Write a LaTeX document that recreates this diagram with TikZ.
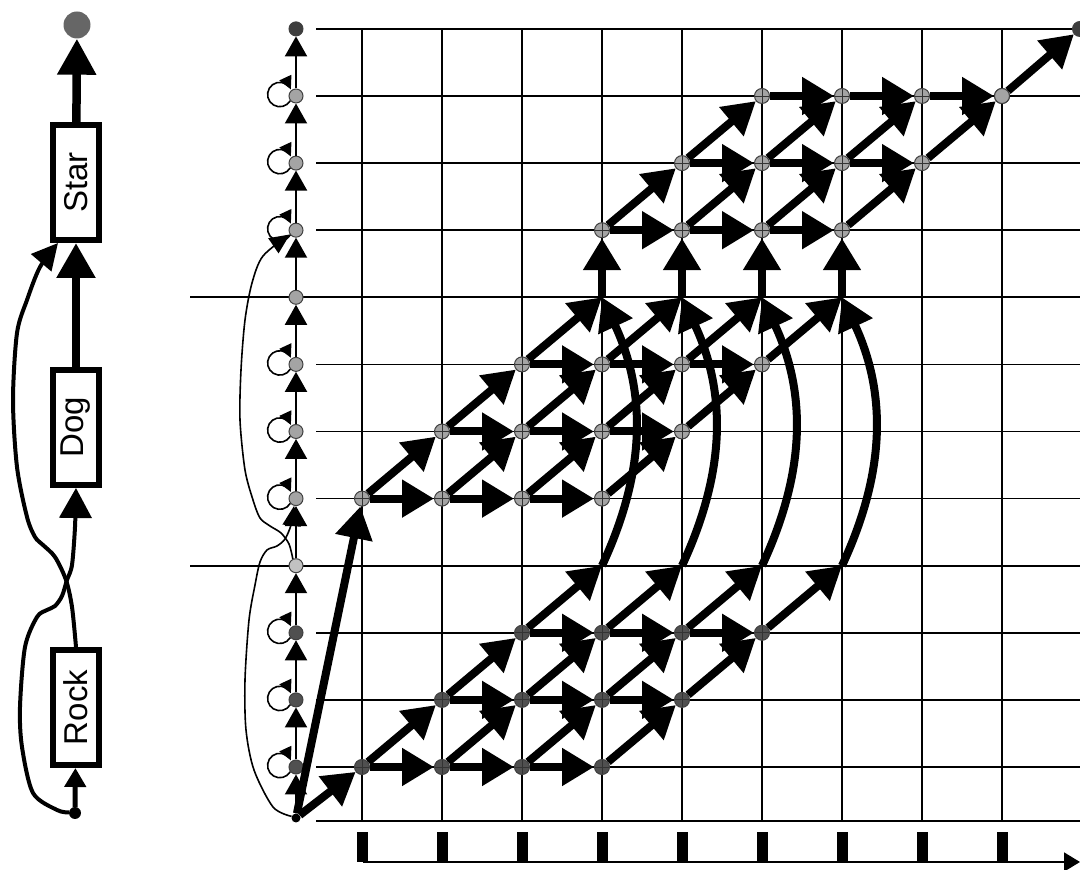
\documentclass[tikz,border=0pt]{standalone}
\usepackage{fontspec}
\setmainfont{Liberation Sans}
\usepackage{graphicx}
\usetikzlibrary{arrows.meta}
\definecolor{nodedark}{HTML}{505050}
\definecolor{nodemid}{HTML}{A4A4A4}
\definecolor{nodelight}{HTML}{C2C2C2}
\definecolor{nodetop}{HTML}{3E3E3E}
\definecolor{dotgray}{HTML}{666666}
\tikzset{
  gridline/.style={line width=1.7pt},
  state/.style={circle,draw=black!75,line width=1pt,inner sep=0pt,minimum size=14pt},
  cell/.style={state,minimum size=15pt,
    path picture={\draw[line width=0.9pt,black!80]
      (path picture bounding box.north) -- (path picture bounding box.south)
      (path picture bounding box.west) -- (path picture bounding box.east);}},
  fat/.style={line width=8pt,-{Triangle[length=32pt,width=36pt]}},
  slim/.style={line width=2pt,-{Triangle[length=20pt,width=22pt]}},
  hair/.style={line width=1.6pt,-{Triangle[length=20pt,width=18pt]}},
  selfloop/.style={line width=1.6pt,-{Triangle[length=13pt,width=13pt]}},
  word/.style={draw,fill=white,line width=6pt,minimum width=46pt,minimum height=115pt,
    inner sep=0pt,font=\fontsize{33}{38}\selectfont},
}
\begin{document}
\begin{tikzpicture}[x=1pt,y=1pt]
\useasboundingbox (0,0) rectangle (1080,870);
% word chain
\node[circle,fill=black,inner sep=0pt,minimum size=12pt] (ldot) at (75,57) {};
\node[word] (rock) at (76,162.5) {\rotatebox{90}{Rock}};
\node[word] (dog) at (76,442.5) {\rotatebox{90}{Dog}};
\node[word] (star) at (76,687.5) {\rotatebox{90}{Star}};
\node[circle,fill=dotgray,inner sep=0pt,minimum size=27pt] (ltop) at (77,845) {};
\coordinate (starin) at (58,627);
\draw[line width=5pt,-{Triangle[length=19pt,width=21pt]}] (ldot) -- (rock);
\draw[line width=8.5pt,-{Triangle[length=35pt,width=37pt]}] (dog) -- (star);
\draw[line width=8.5pt,-{Triangle[length=36pt,width=37pt]}] (star) -- (ltop);
\draw[line width=4pt,-{Triangle[length=30pt,width=32pt]}] plot[smooth] coordinates
  {(ldot.175) (57,60) (33,77) (22,123) (20,163) (25,223) (37,253) (47,260) (55,264)
   (62,274) (67,290) (72,305) (75,343) (dog.south)};
\draw[line width=4pt,-{Triangle[length=26pt,width=26pt]}] plot[smooth] coordinates
  {(rock.north) (72,263) (66,290) (55,313) (43,325) (35,333) (27,353) (17,403)
   (13,470) (17,537) (27,570) (40,603) (starin)};
% grid
\foreach \j in {0,...,11}
  \draw[gridline] (316,{103+67.1*\j}) -- (1080,{103+67.1*\j});
\draw[gridline] (316,49) -- (1080,49);
\foreach \j in {3,7}
  \draw[gridline] (190,{103+67.1*\j}) -- (316,{103+67.1*\j});
\foreach \i in {0,...,8}
  \draw[gridline] ({362+80*\i},49) -- ({362+80*\i},841);
% time axis
\coordinate (ax0) at (363,8);
\coordinate (ax1) at (1080,8);
\draw[line width=1.7pt,-{Triangle[length=16pt,width=19pt]}] (ax0) -- (ax1);
\foreach \i in {0,...,8}
  \fill ({357+80*\i},8) rectangle ++(11,30);
% column of states
\node[circle,fill=black,inner sep=0pt,minimum size=9pt] (cs) at (296,52) {};
\foreach \j/\fillc in {0/nodedark,1/nodedark,2/nodedark,3/nodelight,4/nodemid,5/nodemid,
  6/nodemid,7/nodemid,8/nodemid,9/nodemid,10/nodemid,11/nodetop}
  \node[state,fill=\fillc] (c\j) at (296,{103+67.1*\j}) {};
\draw[slim] (cs) -- (c0);
\foreach \j in {0,...,10}{
  \pgfmathtruncatemacro\jj{\j+1}
  \draw[slim] (c\j) -- (c\jj);
}
\foreach \j in {0,1,2,4,5,6,8,9,10}
  \draw[selfloop] (c\j.220) arc[start angle=-31,end angle=-335,radius=12.2];
\draw[hair] plot[smooth] coordinates
  {(cs.160) (273,63) (254,100) (246,140) (245,190) (249,250) (255,285) (260,308)
   (267,320) (277,324) (285,331) (291,345) (c4.255)};
\draw[hair] plot[smooth] coordinates
  {(c3.115) (289,326) (281,337) (270,344) (260,352) (253,370) (245,400) (240,450)
   (241,500) (245,550) (252,587) (263,614) (c8.215)};
% trellis nodes
\foreach \blk/\sh/\fillc in {0/0/nodedark,4/4/nodemid,8/5/nodemid}{
  \foreach \r in {0,1,2}{
    \foreach \i in {0,...,3}{
      \pgfmathtruncatemacro\j{\blk+\r}
      \pgfmathtruncatemacro\x{\i+\j-\sh}
      \node[cell,fill=\fillc] (n\x-\j) at ({362+80*\x},{103+67.1*\j}) {};
    }
  }
}
\node[state,minimum size=15pt,fill=nodemid] (n8-10) at (1002,{103+67.1*10}) {};
\node[state,minimum size=15pt,fill=nodetop] (nend) at (1080,841) {};
\foreach \x in {3,...,6}{
  \coordinate (n\x-3) at ({362+80*\x},{103+67.1*3});
  \coordinate (n\x-7) at ({362+80*\x},{103+67.1*7});
}
% trellis arrows
\draw[fat] (cs) -- (n0-0);
\draw[fat] (cs) -- (n0-4);
\foreach \blk/\sh/\lastrow in {0/0/2,4/4/6,8/5/9}{
  \foreach \r in {0,1,2}{
    \foreach \i in {0,...,3}{
      \pgfmathtruncatemacro\j{\blk+\r}
      \pgfmathtruncatemacro\jj{\j+1}
      \pgfmathtruncatemacro\x{\i+\j-\sh}
      \pgfmathtruncatemacro\xx{\x+1}
      \ifnum\i<3 \draw[fat] (n\x-\j) -- (n\xx-\j);\fi
      \ifnum\j>\lastrow\else \draw[fat] (n\x-\j) -- (n\xx-\jj);\fi
    }
  }
}
\foreach \x in {3,...,6}{
  \draw[fat] (n\x-3) to[bend right=25] (n\x-7);
  \draw[fat] (n\x-7) -- (n\x-8);
}
\draw[fat] (n8-10) -- (nend);
\end{tikzpicture}
\end{document}
